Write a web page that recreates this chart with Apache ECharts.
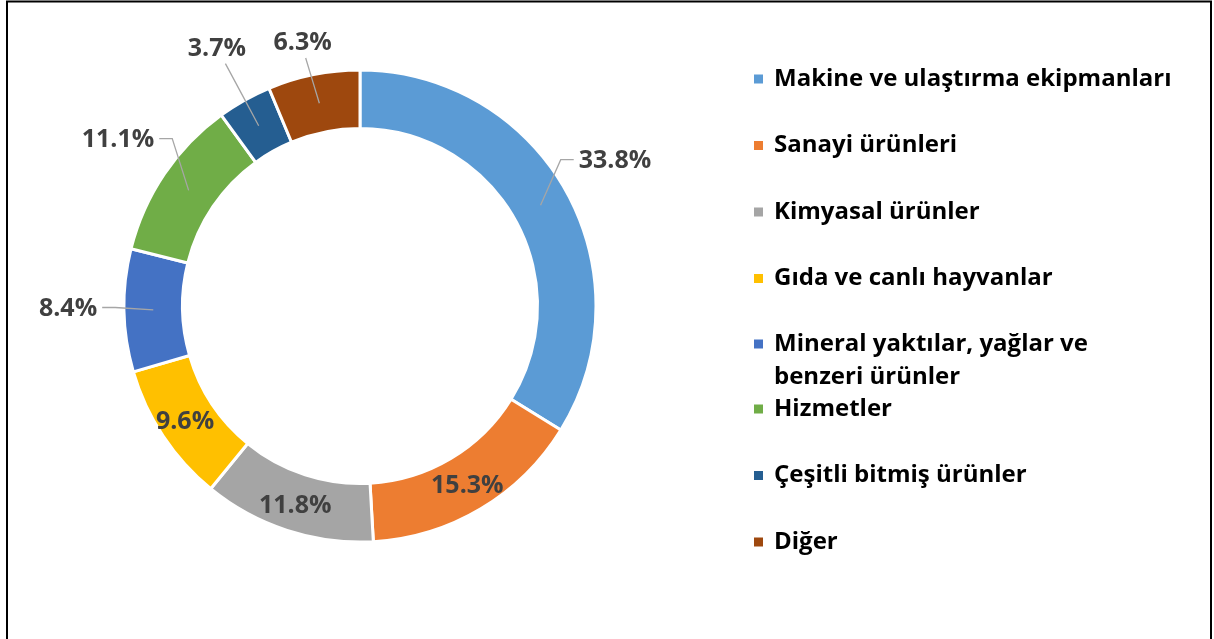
<!DOCTYPE html>
<html>
<head>
<meta charset="utf-8">
<script src="https://cdn.jsdelivr.net/npm/echarts@6/dist/echarts.min.js"></script>
<style>
html,body{margin:0;padding:0;background:#fff;}
#chart{width:1214px;height:639px;}
</style>
</head>
<body>
<div id="chart"></div>
<script>
// categories, clockwise from 12 o'clock
var categories = [
    'Makine ve ulaştırma ekipmanları',
    'Sanayi ürünleri',
    'Kimyasal ürünler',
    'Gıda ve canlı hayvanlar',
    'Mineral yaktılar, yağlar ve benzeri ürünler',
    'Hizmetler',
    'Çeşitli bitmiş ürünler',
    'Diğer'
];
var shares = [33.8, 15.3, 11.8, 9.6, 8.4, 11.1, 3.7, 6.3];
var colors = ['#5B9BD5', '#ED7D31', '#A5A5A5', '#FFC000', '#4472C4', '#70AD47', '#255E91', '#9E480E'];

// labels that sit inside the ring
var insideLabels = ['Sanayi ürünleri', 'Kimyasal ürünler', 'Gıda ve canlı hayvanlar'];

var FONT = 'Open Sans';
var CENTER = [360, 306];
var R_IN = 177.5, R_OUT = 236;
var LABEL_DIST = 292;   // label centre distance from the ring centre
var myChart = echarts.init(document.getElementById('chart'));

var pieData = categories.map(function (name, i) {
    return { name: name, value: shares[i] };
});
var labelData = categories.map(function (name, i) {
    var item = { name: name, value: shares[i] };
    if (insideLabels.indexOf(name) >= 0) {
        item.label = { position: 'inside' };
        item.labelLine = { show: false };
    }
    return item;
});

// excel-like placement: label centred on the slice's mid-angle ray,
// kept inside the frame, leader line starting in the middle of the ring
function placeLabel(params) {
    if (insideLabels.indexOf(categories[params.dataIndex]) >= 0) return {};
    var pts = params.labelLinePoints;
    if (!pts) return {};
    var dx = pts[0][0] - CENTER[0], dy = pts[0][1] - CENTER[1];
    var len = Math.sqrt(dx * dx + dy * dy);
    var ux = dx / len, uy = dy / len;
    var w = params.labelRect.width, h = params.labelRect.height;
    var t = Math.min(w / 2 / Math.max(Math.abs(ux), 1e-6), h / 2 / Math.max(Math.abs(uy), 1e-6));
    var lx = CENTER[0] + ux * LABEL_DIST;
    var ly = Math.max(CENTER[1] + uy * LABEL_DIST - 3, 30 + h / 2);
    var rMid = (R_IN + R_OUT) / 2;
    var start = [CENTER[0] + ux * rMid, CENTER[1] + uy * rMid];
    var line;
    if (Math.abs(ux) > 0.7) {
        var s = ux > 0 ? 1 : -1;
        var edge = lx - s * w / 2;
        line = [start, [edge - s * 18, ly - 1], [edge - s * 5, ly - 1]];
    } else {
        var end = [lx - ux * (t + 3), ly - uy * (t + 3)];
        line = [start, [(start[0] + end[0]) / 2, (start[1] + end[1]) / 2], end];
    }
    return { x: lx, y: ly, align: 'center', verticalAlign: 'middle', labelLinePoints: line };
}

var legendText = { fontFamily: FONT, fontWeight: 'bold', fontSize: 24, lineHeight: 33, color: '#000', padding: [0, 0, 0, 5] };

var option = {
    backgroundColor: '#fff',
    animation: false,
    color: colors,
    graphic: [{
        type: 'rect',
        shape: { x: 7, y: 1.5, width: 1204, height: 700 },
        style: { fill: 'none', stroke: '#000', lineWidth: 2 },
        silent: true
    }],
    legend: [{
        orient: 'vertical',
        left: 752,
        top: 62.5,
        padding: 0,
        itemWidth: 11,
        itemHeight: 11,
        itemGap: 33.5,
        icon: 'rect',
        selectedMode: false,
        data: categories.slice(0, 4),
        textStyle: legendText
    }, {
        // two-line entry: icon box is stretched so the square sits by the first line
        orient: 'vertical',
        left: 752,
        top: 327.5,
        padding: 0,
        itemWidth: 11,
        itemHeight: 44,
        icon: 'path://M0,0H11V11H0Z M0,44L0.01,44Z',
        selectedMode: false,
        data: [categories[4]],
        formatter: function () { return 'Mineral yaktılar, yağlar ve\nbenzeri ürünler'; },
        textStyle: legendText
    }, {
        orient: 'vertical',
        left: 752,
        top: 392.5,
        padding: 0,
        itemWidth: 11,
        itemHeight: 11,
        itemGap: 33.5,
        icon: 'rect',
        selectedMode: false,
        data: categories.slice(5),
        textStyle: legendText
    }],
    series: [{
        // the ring itself
        name: 'ring',
        type: 'pie',
        z: 2,
        center: CENTER,
        radius: [R_IN, R_OUT],
        startAngle: 90,
        clockwise: true,
        silent: true,
        itemStyle: { borderColor: '#fff', borderWidth: 3 },
        label: { show: false },
        labelLine: { show: false },
        data: pieData
    }, {
        // same slices, transparent, only to carry labels + leader lines above the ring
        name: 'labels',
        type: 'pie',
        z: 3,
        center: CENTER,
        radius: [R_IN, R_OUT],
        startAngle: 90,
        clockwise: true,
        silent: true,
        avoidLabelOverlap: false,
        itemStyle: { color: 'rgba(0,0,0,0)' },
        label: {
            show: true,
            position: 'outside',
            formatter: function (p) { return p.value.toFixed(1) + '%'; },
            fontFamily: FONT,
            fontWeight: 'bold',
            fontSize: 25,
            color: '#404040'
        },
        labelLine: {
            show: true,
            length: 14,
            length2: 12,
            lineStyle: { color: '#A6A6A6', width: 1.3 }
        },
        labelLayout: placeLabel,
        data: labelData
    }]
};
myChart.setOption(option);
</script>
</body>
</html>
